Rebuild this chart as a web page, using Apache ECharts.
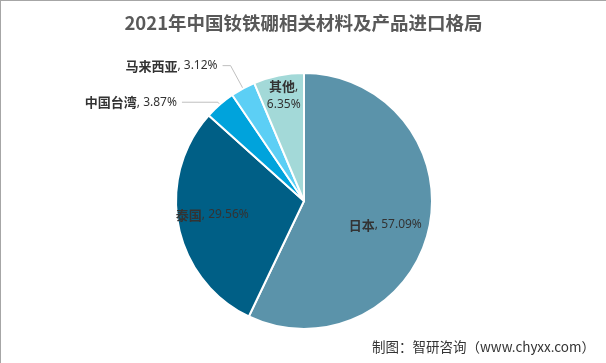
<!DOCTYPE html>
<html>
<head>
<meta charset="utf-8">
<script src="https://cdn.jsdelivr.net/npm/echarts@6/dist/echarts.min.js"></script>
<style>
html,body{margin:0;padding:0;background:#fff;}
#c{width:606px;height:363px;box-sizing:border-box;border-top:1px solid #a6a6a6;border-left:1px solid #a6a6a6;}
</style>
</head>
<body>
<div id="c"></div>
<script>
const categories = ['日本', '泰国', '中国台湾', '马来西亚', '其他'];
const values = [57.09, 29.56, 3.87, 3.12, 6.35];
const colors = ['#5b93aa', '#005f86', '#00a3dc', '#5ccff5', '#a3d9d8'];
const titleText = '2021年中国钕铁硼相关材料及产品进口格局';
const sourceText = '制图：智研咨询（www.chyxx.com）';

const labelCfg = [
  {position: 'inside', offset: [16, 9]},
  {position: 'inside', offset: [-26, 1]},
  {position: 'outside'},
  {position: 'outside'},
  {position: 'inside', offset: [-7, -40], multi: true}
];
const lineCfg = [null, null, {length: 3, length2: 36}, {length: 26, length2: 8}, null];

const chart = echarts.init(document.getElementById('c'), null, {renderer: 'canvas'});
const data = categories.map((n, i) => {
  const cfg = labelCfg[i];
  const item = {
    name: n, value: values[i],
    itemStyle: {color: colors[i]},
    label: {
      position: cfg.position,
      offset: cfg.offset || [0, 0],
      formatter: cfg.multi ? '{n|{b}}{v|,}\n{v|{c}%}' : '{n|{b}}{v|, {c}%}'
    }
  };
  if (lineCfg[i]) item.labelLine = lineCfg[i];
  return item;
});

chart.setOption({
  animation: false,
  title: [{
    text: titleText, left: 'center', top: 8,
    textStyle: {fontFamily: 'Noto Sans CJK SC', fontSize: 18.5, fontWeight: 'bold', color: '#595959'}
  }, {
    text: sourceText, right: 6, bottom: 4,
    textStyle: {fontFamily: 'Noto Sans CJK SC', fontSize: 13.5, fontWeight: 'normal', color: '#333'}
  }],
  series: [{
    type: 'pie',
    center: [303, 200],
    radius: 128,
    startAngle: 90,
    clockwise: true,
    itemStyle: {borderColor: '#fff', borderWidth: 2},
    labelLine: {show: true, lineStyle: {color: '#bfbfbf', width: 1}, smooth: false},
    label: {
      color: '#333',
      rich: {
        n: {fontFamily: 'Noto Sans CJK SC', fontSize: 13, fontWeight: 'bold', color: '#333', lineHeight: 18},
        v: {fontFamily: 'Noto Sans', fontSize: 12, color: '#333', lineHeight: 18}
      }
    },
    data: data
  }]
});
</script>
</body>
</html>
